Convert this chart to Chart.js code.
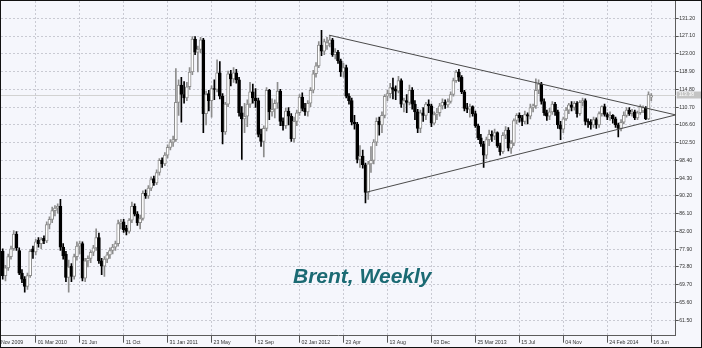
<!DOCTYPE html>
<html>
<head>
<meta charset="utf-8">
<script src="https://cdn.jsdelivr.net/npm/chart.js@4.4.0/dist/chart.umd.min.js"></script>
<style>
  html, body { margin: 0; padding: 0; background: #fff; }
  #wrap { width: 702px; height: 348px; box-sizing: border-box; border: 1px solid #111; background: #f6f7fc; }
  #box { position: relative; width: 700px; height: 346px; }
</style>
</head>
<body>
<div id="wrap"><div id="box"><canvas id="chart"></canvas></div></div>
<script>
// Brent weekly candles. Week 0 = 01 Mar 2010, first candle is week -12
const firstWeek = -12;

const opens = [
  77.4, 71.8, 73.6, 76.2, 78.0, 81.4, 77.6, 72.4, 71.0, 69.3,
  71.8, 78.0, 77.3, 80.0, 79.2, 80.4, 79.8, 83.6, 84.8, 86.8,
  87.4, 87.8, 78.4, 76.8, 71.4, 74.0, 71.6, 76.2, 78.6, 79.2,
  71.2, 75.2, 75.8, 77.2, 78.2, 80.6, 75.2, 74.0, 75.6, 76.6,
  77.6, 78.4, 79.2, 83.8, 84.2, 82.8, 82.0, 84.6, 87.8, 86.0,
  84.0, 85.0, 90.8, 90.2, 92.0, 94.2, 93.2, 95.6, 98.4, 97.6,
  99.6, 101.4, 102.6, 103.2, 111.8, 115.8, 113.6, 112.8, 115.4, 118.8,
  126.4, 123.4, 124.0, 126.2, 109.2, 113.8, 112.2, 115.0, 114.8, 118.6,
  113.2, 105.0, 111.4, 118.4, 117.2, 118.6, 117.0, 109.4, 108.0, 108.6,
  111.4, 114.2, 112.8, 112.2, 104.4, 102.8, 105.8, 114.6, 109.6, 110.2,
  111.6, 114.4, 107.4, 106.4, 109.8, 108.6, 103.4, 107.4, 109.4, 113.0,
  110.4, 109.6, 111.6, 114.6, 118.4, 120.2, 125.0, 123.6, 124.8, 125.4,
  126.2, 122.8, 123.4, 121.4, 118.8, 119.8, 113.2, 112.2, 107.2, 106.8,
  98.6, 99.4, 97.4, 91.0, 97.6, 98.4, 102.6, 107.4, 106.6, 108.8,
  113.2, 113.8, 115.2, 114.8, 114.4, 116.8, 111.4, 112.2, 111.8, 114.6,
  111.4, 109.6, 105.8, 109.4, 108.8, 111.4, 111.0, 107.0, 109.0, 109.4,
  111.0, 111.8, 111.2, 112.0, 113.6, 116.8, 118.8, 117.6, 114.2, 110.4,
  110.2, 110.8, 109.2, 106.4, 103.6, 102.2, 99.6, 103.2, 104.4, 104.0,
  104.8, 101.8, 100.4, 104.2, 105.4, 101.2, 102.4, 107.6, 108.8, 108.2,
  107.4, 109.0, 108.6, 110.6, 111.0, 114.6, 116.0, 112.0, 109.4, 108.6,
  109.6, 111.4, 109.6, 106.6, 105.6, 108.0, 110.0, 111.2, 110.6, 111.6,
  109.2, 111.8, 112.2, 107.4, 107.2, 106.6, 107.8, 106.6, 109.2, 110.8,
  109.0, 108.4, 108.8, 108.0, 106.6, 105.8, 107.2, 108.8, 110.0, 109.2,
  109.6, 108.2, 109.4, 109.8, 110.4, 108.0, 113.0
];
const highs = [
  78.0, 74.2, 76.8, 78.6, 82.2, 82.0, 78.2, 73.2, 71.6, 72.4,
  77.8, 78.6, 80.2, 80.6, 80.6, 81.0, 84.2, 85.4, 87.6, 88.0,
  88.4, 89.4, 79.2, 77.4, 75.4, 74.6, 76.8, 79.6, 79.8, 79.6,
  75.8, 76.4, 77.6, 78.8, 82.6, 81.6, 75.8, 76.2, 77.2, 78.2,
  79.0, 79.8, 84.6, 84.8, 84.8, 83.4, 85.0, 88.8, 88.4, 86.6,
  85.8, 91.4, 91.6, 92.6, 94.6, 94.8, 96.2, 98.8, 99.0, 100.2,
  102.0, 103.2, 104.0, 119.6, 117.0, 117.6, 116.6, 116.4, 119.8, 127.0,
  127.0, 124.8, 126.8, 126.6, 114.4, 114.6, 115.6, 117.0, 121.6, 121.2,
  113.8, 111.8, 119.0, 119.2, 119.8, 119.4, 117.6, 110.8, 111.6, 112.4,
  116.4, 116.0, 115.0, 112.8, 105.6, 106.4, 115.2, 114.8, 112.6, 112.4,
  116.4, 114.8, 108.2, 110.4, 110.6, 109.2, 108.4, 110.0, 113.6, 114.0,
  111.6, 112.2, 115.2, 119.2, 121.0, 125.8, 128.4, 126.4, 126.8, 127.2,
  126.6, 124.2, 123.8, 121.8, 120.8, 120.4, 113.8, 112.8, 108.8, 107.2,
  101.8, 100.8, 97.8, 98.2, 101.6, 103.2, 108.2, 108.4, 109.6, 113.6,
  114.6, 116.2, 117.4, 115.6, 117.8, 117.2, 112.8, 113.6, 115.8, 115.2,
  112.2, 110.2, 110.0, 110.6, 111.8, 112.4, 111.4, 109.6, 110.4, 111.6,
  112.6, 112.4, 112.6, 114.2, 117.4, 119.2, 119.4, 118.0, 114.6, 111.6,
  111.4, 111.0, 109.8, 106.8, 104.4, 102.8, 103.8, 105.4, 105.2, 105.6,
  105.0, 102.4, 104.8, 106.2, 106.0, 103.0, 108.0, 109.2, 109.4, 108.8,
  109.8, 109.4, 111.4, 111.4, 117.2, 117.0, 116.4, 112.6, 110.0, 110.4,
  112.0, 111.8, 110.0, 107.4, 108.4, 110.6, 111.6, 112.0, 112.0, 112.0,
  112.2, 112.8, 112.6, 108.0, 107.8, 108.4, 108.2, 109.6, 111.0, 111.4,
  109.4, 109.6, 109.0, 108.4, 107.0, 107.8, 109.6, 110.6, 110.6, 110.2,
  110.0, 109.8, 111.2, 111.0, 110.8, 114.2, 113.8
];
const lows = [
  71.0, 70.6, 73.0, 75.6, 77.6, 77.6, 72.0, 70.2, 68.0, 68.6,
  71.4, 75.8, 76.6, 78.4, 78.0, 79.2, 79.4, 82.6, 84.0, 85.6,
  86.2, 77.6, 75.6, 70.4, 68.0, 70.4, 71.0, 75.4, 76.8, 70.6,
  70.4, 73.8, 74.8, 76.4, 77.6, 74.6, 72.0, 71.6, 74.8, 75.8,
  76.8, 77.6, 78.6, 82.6, 81.8, 81.2, 81.6, 84.0, 85.6, 83.4,
  82.6, 84.6, 89.6, 89.6, 91.4, 92.6, 92.8, 95.0, 96.8, 97.2,
  99.0, 100.8, 101.6, 102.8, 108.8, 107.2, 111.6, 112.2, 114.8, 118.2,
  122.8, 118.8, 123.2, 104.8, 106.6, 109.8, 108.4, 112.4, 114.2, 112.6,
  102.2, 104.4, 110.8, 115.6, 116.4, 116.2, 108.6, 98.6, 104.8, 106.2,
  110.6, 111.6, 110.6, 103.8, 101.6, 99.2, 105.2, 107.8, 108.6, 108.2,
  110.4, 106.4, 105.4, 105.8, 106.6, 102.8, 102.6, 106.4, 108.8, 109.8,
  108.8, 108.6, 110.8, 114.0, 117.6, 119.8, 122.6, 122.8, 124.0, 124.6,
  122.4, 121.8, 120.8, 117.8, 117.6, 112.8, 111.4, 106.6, 105.6, 97.8,
  96.8, 96.6, 88.6, 89.4, 95.6, 97.6, 101.8, 104.2, 104.8, 108.2,
  112.2, 112.8, 112.6, 112.4, 114.0, 110.6, 109.6, 109.4, 111.2, 110.2,
  107.8, 104.8, 104.8, 107.4, 107.8, 109.4, 106.2, 106.6, 107.8, 108.6,
  110.2, 110.4, 110.6, 111.6, 113.2, 116.4, 116.6, 113.8, 109.8, 109.4,
  108.4, 108.6, 106.0, 103.2, 101.6, 96.8, 98.8, 101.8, 102.8, 103.2,
  101.4, 99.6, 100.0, 103.4, 100.6, 100.0, 101.8, 106.8, 107.2, 106.4,
  106.8, 106.8, 108.0, 109.6, 110.4, 113.8, 111.4, 108.8, 107.6, 107.8,
  109.0, 108.8, 105.8, 103.2, 104.8, 107.6, 109.2, 109.8, 110.0, 108.4,
  108.8, 111.0, 106.6, 106.0, 105.6, 106.0, 105.8, 106.0, 108.6, 108.6,
  107.8, 107.6, 107.0, 106.0, 103.8, 105.2, 106.8, 108.4, 108.8, 108.6,
  107.8, 107.8, 109.0, 109.4, 107.8, 107.8, 112.2
];
const closes = [
  71.8, 73.6, 76.2, 78.0, 81.4, 78.2, 72.4, 71.0, 69.3, 71.8,
  77.4, 77.3, 79.6, 79.2, 80.1, 79.8, 83.6, 84.8, 86.8, 87.4,
  87.8, 78.4, 76.4, 71.4, 73.8, 71.6, 76.2, 78.6, 79.2, 71.2,
  75.2, 75.8, 77.2, 78.2, 80.6, 75.2, 74.0, 75.6, 76.6, 77.6,
  78.4, 79.2, 83.8, 84.2, 82.4, 82.0, 84.6, 87.8, 86.0, 84.0,
  85.0, 90.8, 90.2, 92.0, 94.0, 93.2, 95.6, 98.4, 97.6, 99.6,
  101.4, 102.6, 103.2, 111.8, 115.8, 113.6, 112.8, 115.4, 118.8, 126.4,
  123.4, 124.0, 126.2, 109.2, 113.6, 112.2, 115.0, 114.8, 118.6, 113.2,
  105.0, 111.4, 118.4, 117.2, 118.6, 117.0, 109.4, 108.0, 108.6, 111.4,
  114.2, 112.8, 112.2, 104.4, 102.8, 105.8, 114.6, 109.6, 110.2, 111.6,
  114.4, 107.4, 106.4, 109.8, 108.6, 103.4, 107.4, 109.4, 113.0, 110.4,
  109.6, 111.6, 114.6, 118.4, 120.2, 125.0, 123.6, 125.8, 125.6, 126.2,
  122.8, 123.4, 121.4, 118.8, 119.8, 113.2, 112.2, 107.2, 106.8, 98.6,
  99.4, 97.4, 91.0, 97.6, 98.4, 102.6, 107.4, 106.6, 108.8, 113.2,
  113.8, 115.2, 114.8, 114.4, 116.8, 111.4, 112.2, 111.8, 114.6, 111.4,
  109.6, 105.8, 109.4, 108.8, 111.4, 111.0, 107.0, 109.0, 109.4, 111.0,
  111.8, 111.2, 112.0, 113.6, 116.8, 118.8, 117.6, 114.2, 110.4, 110.2,
  110.8, 109.2, 106.4, 103.6, 102.2, 99.6, 103.2, 104.4, 104.0, 104.8,
  101.8, 100.4, 104.2, 105.4, 101.2, 102.4, 107.6, 108.8, 108.2, 107.4,
  109.0, 108.6, 110.6, 111.0, 114.6, 116.0, 112.0, 109.4, 108.6, 109.6,
  111.4, 109.6, 106.6, 105.6, 108.0, 110.0, 111.2, 110.6, 111.6, 109.2,
  111.8, 112.2, 107.4, 107.2, 106.6, 107.8, 106.6, 109.2, 110.8, 109.0,
  108.4, 108.8, 108.0, 106.6, 105.8, 107.2, 108.8, 110.0, 109.2, 109.6,
  108.2, 109.4, 110.8, 110.6, 108.0, 113.6, 113.38
];

const yTicks = [61.5, 65.6, 69.7, 73.8, 77.9, 82.0, 86.1, 90.2, 94.3, 98.4,
  102.5, 106.6, 110.7, 114.8, 118.9, 123.0, 127.1, 131.2];
const xTickWeeks = [-16, 0, 16, 32, 48, 64, 80, 96, 112, 128, 144, 160, 176, 192, 208, 224];
const xTickLabels = ['09 Nov 2009', '01 Mar 2010', '21 Jun', '11 Oct', '31 Jan 2011', '23 May',
  '12 Sep', '02 Jan 2012', '23 Apr', '13 Aug', '03 Dec', '25 Mar 2013', '15 Jul', '04 Nov',
  '24 Feb 2014', '16 Jun'];

// triangle drawn on the chart (week, price)
const upperLineX = [106.8, 232.9];
const upperLineY = [127.3, 108.9];
const lowerLineX = [120.6, 232.9];
const lowerLineY = [91.1, 108.9];

const lastPrice = 113.38;
const xMin = -12.63, xMax = 232.89;
const yMin = 57.94, yMax = 135.19;

const FONT = '"Liberation Sans", Arial, sans-serif';
Chart.defaults.font.family = FONT;

const bull = closes.map((c, k) => c >= opens[k]);
const bodies = opens.map((o, k) => ({ x: firstWeek + k, y: [Math.min(o, closes[k]), Math.max(o, closes[k])] }));
const wicks = lows.map((l, k) => ({ x: firstWeek + k, y: [l, highs[k]] }));

const bgPlugin = {
  id: 'bg',
  beforeDraw(chart) {
    const { ctx, chartArea: a } = chart;
    ctx.save();
    ctx.fillStyle = '#f6f7fc';
    ctx.fillRect(0, 0, chart.width, chart.height);
    ctx.fillStyle = '#f5f6fc';
    ctx.fillRect(a.left, a.top, a.right - a.left, a.bottom - a.top);
    ctx.restore();
  }
};

const overlayPlugin = {
  id: 'overlay',
  afterDraw(chart) {
    const { ctx, chartArea: a, scales } = chart;
    ctx.save();
    // last price tag on the price axis
    const py = Math.round(scales.y.getPixelForValue(lastPrice));
    ctx.fillStyle = '#c4c4c4';
    ctx.fillRect(a.right + 1, py - 3.5, chart.width - a.right - 1, 7);
    ctx.fillStyle = '#ffffff';
    ctx.font = '5.2px ' + FONT;
    ctx.textBaseline = 'middle';
    ctx.fillText(lastPrice.toFixed(2), a.right + 3, py);
    // title
    ctx.fillStyle = '#1b6a73';
    ctx.font = 'italic bold 21px ' + FONT;
    ctx.textBaseline = 'alphabetic';
    ctx.fillText('Brent, Weekly', 292, 282);
    ctx.restore();
  }
};

new Chart(document.getElementById('chart'), {
  type: 'bar',
  data: {
    datasets: [
      {
        type: 'line',
        data: upperLineX.map((x, k) => ({ x, y: upperLineY[k] })),
        borderColor: '#4a4a4a', borderWidth: 1, pointRadius: 0, order: 0
      },
      {
        type: 'line',
        data: lowerLineX.map((x, k) => ({ x, y: lowerLineY[k] })),
        borderColor: '#4a4a4a', borderWidth: 1, pointRadius: 0, order: 0
      },
      {
        data: bodies,
        backgroundColor: bull.map(b => b ? '#ffffff' : '#000000'),
        borderColor: bull.map(b => b ? '#8c8c8c' : '#000000'),
        borderWidth: 1,
        borderSkipped: false,
        barThickness: 3,
        grouped: false,
        order: 1
      },
      {
        data: wicks,
        backgroundColor: bull.map(b => b ? '#8c8c8c' : '#000000'),
        borderWidth: 0,
        barThickness: 1,
        grouped: false,
        order: 2
      },
      {
        type: 'line',
        data: [{ x: xMin, y: lastPrice }, { x: xMax, y: lastPrice }],
        borderColor: '#d2d2d2', borderWidth: 1, pointRadius: 0, order: 3
      }
    ]
  },
  options: {
    responsive: true,
    maintainAspectRatio: false,
    animation: false,
    layout: { padding: 0 },
    plugins: { legend: { display: false }, tooltip: { enabled: false } },
    scales: {
      x: {
        type: 'linear',
        offset: false,
        min: xMin,
        max: xMax,
        afterBuildTicks: s => { s.ticks = xTickWeeks.map(v => ({ value: v })); },
        afterFit: s => {
          s.height = 11.3;
          s.paddingLeft = 0; s.paddingRight = 0; s.paddingTop = 0; s.paddingBottom = 0;
        },
        ticks: {
          autoSkip: false, maxRotation: 0, minRotation: 0,
          align: 'start', labelOffset: 2, padding: -3,
          color: '#333', font: { size: 5.2 },
          callback: (v, i) => xTickLabels[i]
        },
        grid: { offset: false, color: '#c9cad3', lineWidth: 1, tickLength: 7, tickColor: '#555', tickBorderDash: [] },
        border: { color: '#5c5c5c', width: 1, dash: [2, 2] }
      },
      y: {
        type: 'linear',
        position: 'right',
        min: yMin,
        max: yMax,
        afterBuildTicks: s => { s.ticks = yTicks.map(v => ({ value: v })); },
        afterFit: s => {
          s.width = 25.3;
          s.paddingLeft = 0; s.paddingRight = 0; s.paddingTop = 0; s.paddingBottom = 0;
        },
        ticks: { padding: 0.5, color: '#333', font: { size: 5.2 }, callback: v => v.toFixed(2) },
        grid: { color: '#c9cad3', lineWidth: 1, tickLength: 3, tickColor: '#555', tickBorderDash: [] },
        border: { color: '#5c5c5c', width: 1, dash: [2, 2] }
      }
    }
  },
  plugins: [bgPlugin, overlayPlugin]
});
</script>
</body>
</html>
